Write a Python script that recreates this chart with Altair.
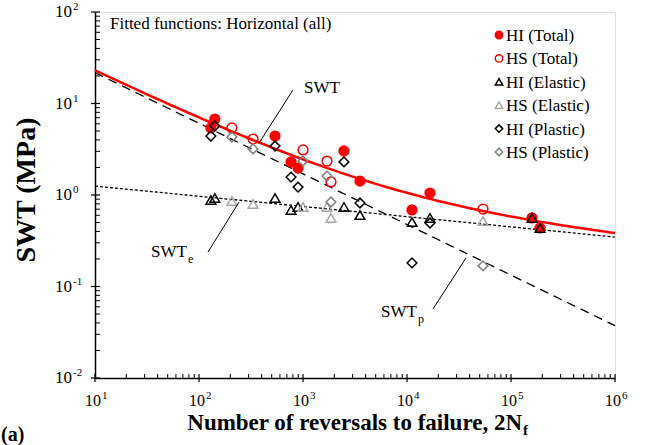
import altair as alt
import numpy as np
import pandas as pd

FONT = "Times New Roman, Liberation Serif, serif"

# ---- measured data -------------------------------------------------------
# HI specimens: reversals to failure and SWT parameter (MPa)
hi_reversals = [130, 142, 538, 767, 896, 2477, 3530, 11170, 16630, 159200, 190000]
hi_total = [5.40, 6.77, 4.41, 2.30, 1.97, 3.03, 1.42, 0.686, 1.05, 0.561, 0.436]
hi_elastic = [0.882, 0.927, 0.927, 0.686, 0.74, 0.74, 0.604, 0.507, 0.561, 0.561, 0.436]
hi_plastic_reversals = [130, 142, 538, 767, 896, 2477, 3530, 11170, 16630]
hi_plastic = [4.41, 5.68, 3.43, 1.57, 1.22, 2.30, 0.818, 0.181, 0.494]

# HS specimens
hs_reversals = [207, 331, 1000, 1702, 1858, 53800]
hs_total = [5.40, 4.09, 3.11, 2.35, 1.39, 0.703]
hs_elastic = [0.86, 0.798, 0.74, 0.74, 0.561, 0.52]
hs_plastic = [4.31, 3.19, 2.35, 1.61, 0.838, 0.168]

# fitted power laws  SWT = coef * (2Nf)^exp
elastic_coef, elastic_exp = 1.618, -0.1114
plastic_coef, plastic_exp = 77.6, -0.553

series_names = ["HI (Total)", "HS (Total)", "HI (Elastic)",
                "HS (Elastic)", "HI (Plastic)", "HS (Plastic)"]
series_shapes = ["circle", "circle", "triangle-up", "triangle-up", "diamond", "diamond"]
series_strokes = ["#ff0000", "#ff0000", "#000000", "#a6a6a6", "#000000", "#7f7f7f"]
series_fills = ["#ff0000", "transparent", "transparent", "transparent",
                "transparent", "transparent"]
series_sizes = [95, 95, 120, 120, 105, 105]

x_major = [10, 100, 1e3, 1e4, 1e5, 1e6]
x_exponents = ["1", "2", "3", "4", "5", "6"]
y_major = [0.01, 0.1, 1, 10, 100]
y_exponents = ["-2", "-1", "0", "1", "2"]

# ---- tables ---------------------------------------------------------------
def block(name, xs, ys):
    return pd.DataFrame({"n": xs, "swt": ys, "series": name})

points = pd.concat([
    block("HI (Total)", hi_reversals, hi_total),
    block("HS (Total)", hs_reversals, hs_total),
    block("HI (Elastic)", hi_reversals, hi_elastic),
    block("HS (Elastic)", hs_reversals, hs_elastic),
    block("HI (Plastic)", hi_plastic_reversals, hi_plastic),
    block("HS (Plastic)", hs_reversals, hs_plastic),
], ignore_index=True)

fit_n = np.logspace(1, 6, 121)
fit_e = elastic_coef * fit_n ** elastic_exp
fit_p = plastic_coef * fit_n ** plastic_exp
fits = pd.DataFrame({"n": fit_n, "elastic": fit_e, "plastic": fit_p, "total": fit_e + fit_p})

x_minor = [m * 10 ** k for k in range(1, 6) for m in range(2, 10)]
y_minor = [m * 10.0 ** k for k in range(-2, 2) for m in range(2, 10)]

W, H = 520, 366
xs = alt.Scale(type="log", domain=[10, 1e6])
ys = alt.Scale(type="log", domain=[0.01, 100])
xa = alt.Axis(title=None, labels=False, ticks=False, grid=False,
              domainColor="black", domainWidth=1.5)
ya = alt.Axis(title=None, labels=False, ticks=False, grid=False,
              domainColor="black", domainWidth=1.5)


def X(field):
    return alt.X(field, type="quantitative", scale=xs, axis=xa)


def Y(field):
    return alt.Y(field, type="quantitative", scale=ys, axis=ya)


base_fit = alt.Chart(fits)
total_line = base_fit.mark_line(color="#ff0000", strokeWidth=2.5).encode(x=X("n"), y=Y("total"))
elastic_line = base_fit.mark_line(color="black", strokeWidth=1.3, strokeDash=[3, 2]).encode(
    x=X("n"), y=Y("elastic"))
plastic_line = base_fit.mark_line(color="black", strokeWidth=1.3, strokeDash=[9, 6]).encode(
    x=X("n"), y=Y("plastic"))

marks = alt.Chart(points).mark_point(opacity=1, strokeWidth=1.5).encode(
    x=X("n"),
    y=Y("swt"),
    shape=alt.Shape("series:N", scale=alt.Scale(domain=series_names, range=series_shapes),
                    legend=None),
    stroke=alt.Stroke("series:N", scale=alt.Scale(domain=series_names, range=series_strokes),
                      legend=None),
    fill=alt.Fill("series:N", scale=alt.Scale(domain=series_names, range=series_fills),
                  legend=None),
    size=alt.Size("series:N", scale=alt.Scale(domain=series_names, range=series_sizes),
                  legend=None),
)

# legend drawn inside the plot, top right
legend_layers = []
for i, name in enumerate(series_names):
    row = pd.DataFrame({"series": [name]})
    ypos = 23 + i * 23.4
    legend_layers.append(
        alt.Chart(row).mark_point(opacity=1, strokeWidth=1.5, shape=series_shapes[i],
                                  stroke=series_strokes[i], fill=series_fills[i], size=55)
        .encode(x=alt.value(404), y=alt.value(ypos)))
    legend_layers.append(
        alt.Chart(row).mark_text(font=FONT, fontSize=17, align="left", baseline="middle",
                                 color="black")
        .encode(x=alt.value(411), y=alt.value(ypos + 1), text="series:N"))

# leader lines for the curve labels (data units)
leaders = pd.DataFrame({
    "n": [802, 122, 17780], "swt": [14.1, 0.238, 0.0568],
    "n2": [378, 243, 36900], "swt2": [3.70, 0.838, 0.205],
})
leader_rules = alt.Chart(leaders).mark_rule(color="black", strokeWidth=1).encode(
    x=X("n"), y=Y("swt"), x2="n2:Q", y2="swt2:Q")

curve_labels = pd.DataFrame({"n": [1524, 51.5, 8375], "swt": [14.8, 0.238, 0.0526],
                             "main": ["SWT", "SWT", "SWT"], "sub": ["", "e", "p"]})
label_main = alt.Chart(curve_labels).mark_text(font=FONT, fontSize=17, align="center",
                                               baseline="middle", color="black").encode(
    x=X("n"), y=Y("swt"), text="main:N")
label_sub = alt.Chart(curve_labels).mark_text(font=FONT, fontSize=12, align="left",
                                              baseline="middle", dx=19, dy=7,
                                              color="black").encode(
    x=X("n"), y=Y("swt"), text="sub:N")

# axis ticks: major cross the axis line, minor sit inside
xt = pd.DataFrame({"v": x_major, "e": x_exponents})
yt = pd.DataFrame({"v": y_major, "e": y_exponents})
xm = pd.DataFrame({"v": x_minor})
ym = pd.DataFrame({"v": y_minor})

x_major_ticks = alt.Chart(xt).mark_rule(color="black", strokeWidth=1.2).encode(
    x=X("v"), y=alt.value(H - 4), y2=alt.value(H + 4))
x_minor_ticks = alt.Chart(xm).mark_rule(color="black", strokeWidth=1).encode(
    x=X("v"), y=alt.value(H - 4), y2=alt.value(H))
y_major_ticks = alt.Chart(yt).mark_rule(color="black", strokeWidth=1.2).encode(
    y=Y("v"), x=alt.value(-4), x2=alt.value(5))
y_minor_ticks = alt.Chart(ym).mark_rule(color="black", strokeWidth=1).encode(
    y=Y("v"), x=alt.value(0), x2=alt.value(5))

x_lab = alt.Chart(xt).mark_text(font=FONT, fontSize=16, align="right", baseline="alphabetic",
                                dx=6, color="black").encode(
    x=X("v"), y=alt.value(H + 28), text=alt.value("10"))
x_lab_e = alt.Chart(xt).mark_text(font=FONT, fontSize=11, align="left", baseline="alphabetic",
                                  dx=7, color="black").encode(
    x=X("v"), y=alt.value(H + 21), text="e:N")
y_lab = alt.Chart(yt).mark_text(font=FONT, fontSize=17, align="right", baseline="middle",
                                color="black").encode(
    y=Y("v"), x=alt.value(-23), text=alt.value("10"))
y_lab_e = alt.Chart(yt).mark_text(font=FONT, fontSize=11, align="left", baseline="middle",
                                  dy=-5, color="black").encode(
    y=Y("v"), x=alt.value(-22), text="e:N")

one = pd.DataFrame({"k": [0]})
x_title = alt.Chart(one).mark_text(font=FONT, fontSize=23, fontWeight="bold", align="right",
                                   baseline="alphabetic", color="black").encode(
    x=alt.value(427), y=alt.value(H + 52), text=alt.value("Number of reversals to failure, 2N"))
x_title_sub = alt.Chart(one).mark_text(font=FONT, fontSize=15, fontWeight="bold", align="left",
                                       baseline="alphabetic", color="black").encode(
    x=alt.value(428), y=alt.value(H + 57), text=alt.value("f"))
y_title = alt.Chart(one).mark_text(font=FONT, fontSize=28, fontWeight="bold", align="center",
                                   baseline="middle", angle=270, color="black").encode(
    x=alt.value(-68), y=alt.value(178), text=alt.value("SWT (MPa)"))
panel = alt.Chart(one).mark_text(font=FONT, fontSize=20, fontWeight="bold", align="left",
                                 baseline="alphabetic", color="black").encode(
    x=alt.value(-94), y=alt.value(H + 63), text=alt.value("(a)"))
note = alt.Chart(one).mark_text(font=FONT, fontSize=17, align="left", baseline="alphabetic",
                                color="black").encode(
    x=alt.value(15), y=alt.value(17), text=alt.value("Fitted functions: Horizontal (all)"))

chart = alt.layer(
    elastic_line, plastic_line, total_line, marks, leader_rules, label_main, label_sub,
    x_major_ticks, x_minor_ticks, y_major_ticks, y_minor_ticks,
    x_lab, x_lab_e, y_lab, y_lab_e, x_title, x_title_sub, y_title, panel, note,
    *legend_layers,
).properties(
    width=W, height=H,
    autosize=alt.AutoSizeParams(type="none"),
    padding={"left": 95, "top": 12, "right": 44, "bottom": 67},
).configure_view(
    stroke="#808080", strokeWidth=1.5,
).configure(background="white")

chart.save("out.html", embed_options={"renderer": "svg", "actions": False})
